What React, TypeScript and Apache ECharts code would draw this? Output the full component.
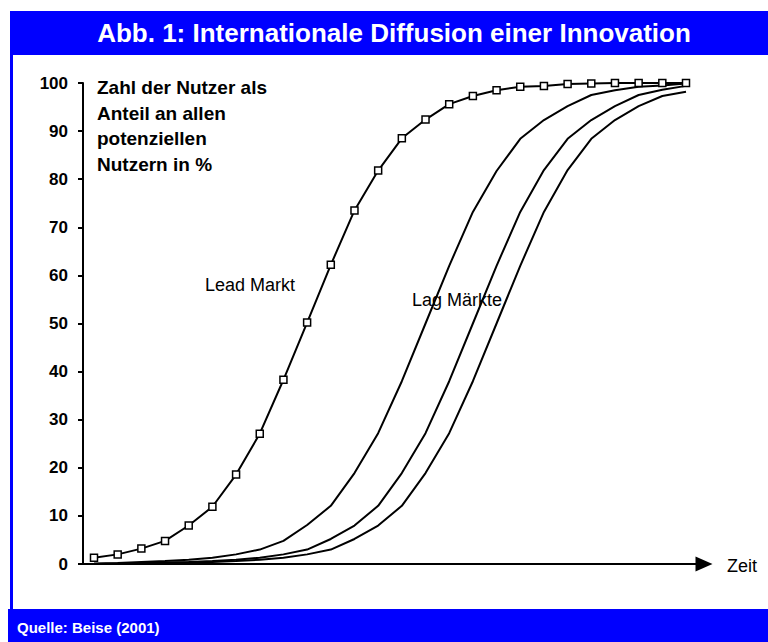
import React, { useEffect, useRef } from "react";
import * as echarts from "echarts";

// Time periods (x positions, unlabeled on the chart)
const periods = [0, 1, 2, 3, 4, 5, 6, 7, 8, 9, 10, 11, 12, 13, 14, 15, 16, 17, 18, 19, 20, 21, 22, 23, 24, 25];

// Lead market (with square markers)
const leadMarkt = [1.3, 2.0, 3.2, 4.8, 8.0, 11.9, 18.6, 27.1, 38.3, 50.2, 62.2, 73.5, 81.8, 88.5, 92.4, 95.6, 97.3, 98.5, 99.2, 99.4, 99.8, 99.9, 100, 100, 100, 100];

// Lag markets
const lagMarkt1 = [0.1, 0.2, 0.4, 0.6, 0.9, 1.3, 2.0, 3.0, 4.8, 8.1, 12.1, 18.9, 27.2, 38.0, 50.0, 62.0, 73.2, 81.7, 88.4, 92.3, 95.2, 97.5, 98.5, 99.2, 99.5, 99.9];
const lagMarkt2 = [0.0, 0.1, 0.2, 0.3, 0.4, 0.6, 0.9, 1.3, 2.0, 3.0, 5.2, 8.0, 12.1, 18.9, 27.2, 38.0, 50.0, 62.0, 73.2, 81.9, 88.4, 92.3, 95.2, 97.5, 98.6, 99.4];
const lagMarkt3 = [0.0, 0.0, 0.1, 0.2, 0.3, 0.4, 0.6, 0.9, 1.3, 2.0, 3.0, 5.2, 8.0, 12.1, 18.9, 27.2, 38.0, 50.0, 62.0, 73.2, 81.9, 88.4, 92.3, 95.2, 97.3, 98.2];

const yTicks = [0, 10, 20, 30, 40, 50, 60, 70, 80, 90, 100];

const titleText = "Abb. 1: Internationale Diffusion einer Innovation";
const yAxisNote = ["Zahl der Nutzer als", "Anteil an allen", "potenziellen", "Nutzern in %"];
const leadLabel = "Lead Markt";
const lagLabel = "Lag Märkte";
const xAxisLabel = "Zeit";
const sourceText = "Quelle: Beise (2001)";

const FONT = "'Liberation Sans', Arial, Helvetica, sans-serif";
const BLUE = "#0000ff";

const pairs = (vals: number[]) => periods.map((p, i) => [p, vals[i]]);

export default function App() {
  const ref = useRef<HTMLDivElement>(null);

  useEffect(() => {
    if (!ref.current) return;
    const chart = echarts.init(ref.current, null, { renderer: "svg" });

    const lineSeries = (name: string, vals: number[], z: number) => ({
      name,
      type: "line",
      data: pairs(vals),
      showSymbol: false,
      symbol: "none",
      lineStyle: { color: "#000", width: 2 },
      z,
      silent: true,
    });

    chart.setOption({
      animation: false,
      backgroundColor: "#ffffff",
      grid: { left: 83, right: 64, top: 83, bottom: 78 },
      xAxis: {
        type: "value",
        min: -0.4645,
        max: 25.76,
        axisLine: {
          show: true,
          onZero: false,
          symbol: ["none", "triangle"],
          symbolSize: [15, 17],
          lineStyle: { color: "#000", width: 2 },
        },
        axisTick: { show: false },
        axisLabel: { show: false },
        splitLine: { show: false },
      },
      yAxis: {
        type: "value",
        min: 0,
        max: 100,
        interval: 10,
        axisLine: { show: true, onZero: false, lineStyle: { color: "#000", width: 2 } },
        axisTick: { show: true, inside: false, length: 5, lineStyle: { color: "#000", width: 2 } },
        axisLabel: {
          margin: 15,
          color: "#000",
          fontSize: 17,
          fontWeight: "bold",
          fontFamily: FONT,
          formatter: (v: number) => (yTicks.includes(v) ? String(v) : ""),
        },
        splitLine: { show: false },
      },
      series: [
        lineSeries("Lag 3", lagMarkt3, 2),
        lineSeries("Lag 2", lagMarkt2, 3),
        lineSeries("Lag 1", lagMarkt1, 4),
        {
          name: "Lead Markt",
          type: "line",
          data: pairs(leadMarkt),
          symbol: "rect",
          symbolSize: 7,
          showSymbol: true,
          lineStyle: { color: "#000", width: 2 },
          itemStyle: { color: "#fff", borderColor: "#000", borderWidth: 1.5 },
          z: 5,
          silent: true,
        },
      ],
      graphic: [
        { type: "rect", shape: { x: 10, y: 11, width: 758, height: 44 }, style: { fill: BLUE }, silent: true },
        { type: "rect", shape: { x: 10, y: 55, width: 3, height: 554 }, style: { fill: BLUE }, silent: true },
        { type: "rect", shape: { x: 8, y: 609, width: 760, height: 33 }, style: { fill: BLUE }, silent: true },
        {
          type: "text",
          x: 394,
          y: 33,
          style: {
            text: titleText,
            fill: "#fff",
            fontSize: 26,
            fontWeight: "bold",
            fontFamily: FONT,
            align: "center",
            verticalAlign: "middle",
          },
          silent: true,
        },
        {
          type: "text",
          x: 97,
          y: 75,
          style: {
            text: yAxisNote.join("\n"),
            fill: "#000",
            fontSize: 19,
            fontWeight: "bold",
            fontFamily: FONT,
            lineHeight: 25.5,
            align: "left",
            verticalAlign: "top",
          },
          silent: true,
        },
        {
          type: "text",
          x: 250,
          y: 285,
          style: { text: leadLabel, fill: "#000", fontSize: 18, fontFamily: FONT, align: "center", verticalAlign: "middle" },
          silent: true,
        },
        {
          type: "text",
          x: 457,
          y: 300,
          style: { text: lagLabel, fill: "#000", fontSize: 18, fontFamily: FONT, align: "center", verticalAlign: "middle" },
          silent: true,
        },
        {
          type: "text",
          x: 727,
          y: 566,
          style: { text: xAxisLabel, fill: "#000", fontSize: 18, fontFamily: FONT, align: "left", verticalAlign: "middle" },
          silent: true,
        },
        {
          type: "text",
          x: 17,
          y: 627,
          style: {
            text: sourceText,
            fill: "#fff",
            fontSize: 15,
            fontWeight: "bold",
            fontFamily: FONT,
            align: "left",
            verticalAlign: "middle",
          },
          silent: true,
        },
      ],
    });

    return () => chart.dispose();
  }, []);

  return (
    <div
      ref={ref}
      style={{ position: "absolute", left: 0, top: 0, width: 768, height: 642, background: "#fff" }}
    />
  );
}
